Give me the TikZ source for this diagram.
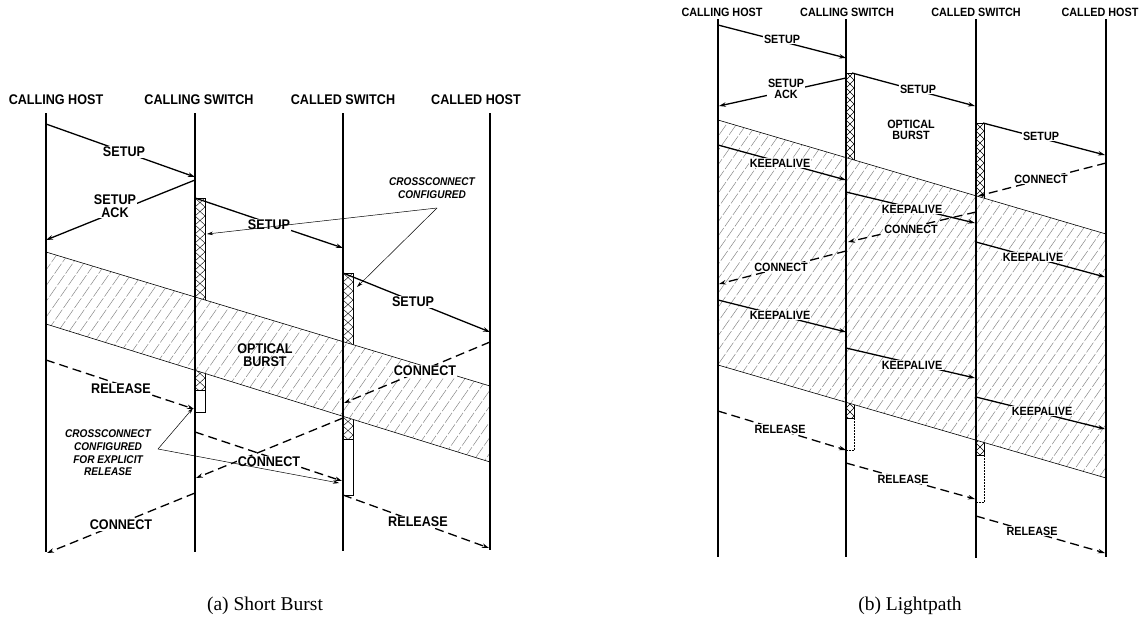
\documentclass[tikz,border=0pt]{standalone}
\usepackage{fontspec}
\setmainfont{Liberation Serif}
\newfontfamily\labfont[FakeStretch=0.9]{Liberation Sans}
\usetikzlibrary{arrows.meta}
\tikzset{
 life/.style={line width=1.7pt},
 msg/.style={line width=1.3pt,-{Stealth[length=7pt,width=4.5pt]}},
 dmsg/.style={msg,dash pattern=on 9pt off 5pt},
 labA/.style={font=\labfont\bfseries\fontsize{14}{13}\selectfont,fill=white,inner sep=1pt,align=center},
 labB/.style={font=\labfont\bfseries\fontsize{12}{11.5}\selectfont,fill=white,inner sep=1pt,align=center},
 headA/.style={font=\labfont\bfseries\fontsize{14}{14}\selectfont},
 headB/.style={font=\labfont\bfseries\fontsize{12}{12}\selectfont},
 noteA/.style={font=\labfont\bfseries\itshape\fontsize{11.2}{12.6}\selectfont,align=center},
 pointer/.style={line width=0.5pt,-{Stealth[length=6pt,width=3.5pt]}},
 hatchline/.style={gray,line width=0.45pt,dash pattern=on 12pt off 2pt},
 bandedge/.style={line width=0.6pt},
 xline/.style={line width=0.4pt},
 xbox/.style={line width=0.6pt},
 dotbox/.style={line width=0.5pt,densely dotted},
 captext/.style={font=\fontsize{19.5}{21}\selectfont}
}
\begin{document}
\begin{tikzpicture}[x=1pt,y=-1pt]
\useasboundingbox (0,0) rectangle (1140,627);

% ================= (a) Short Burst =================
% crossconnect boxes
\begin{scope}
 \clip (195,198) rectangle (205,390);
 \foreach \y in {189,198,...,390} {\draw[xline] (195,\y) -- (205,\y+9); \draw[xline] (195,\y+9) -- (205,\y);}
\end{scope}
\draw[xbox] (195,198) rectangle (205,412);
\draw[xbox] (195,390) -- (205,390);
\begin{scope}
 \clip (343,273) rectangle (353,439);
 \foreach \y in {264,273,...,439} {\draw[xline] (343,\y) -- (353,\y+9); \draw[xline] (343,\y+9) -- (353,\y);}
\end{scope}
\draw[xbox] (343,273) rectangle (353,495);
\draw[xbox] (343,439) -- (353,439);

% optical burst band
\fill[white] (46,252) -- (490,386) -- (490,462) -- (46,324) -- cycle;
\begin{scope}
 \clip (46,252) -- (490,386) -- (490,462) -- (46,324) -- cycle;
 \foreach \x in {-200,-189,...,500} {\draw[hatchline] (\x,480) -- ++(180,-257);}
\end{scope}
\draw[bandedge] (46,252) -- (490,386);
\draw[bandedge] (46,324) -- (490,462);

% lifelines
\coordinate (haT) at (46,113);  \coordinate (haB) at (46,552);
\coordinate (saT) at (195,113); \coordinate (saB) at (195,552);
\coordinate (sbT) at (343,113); \coordinate (sbB) at (343,551);
\coordinate (hbT) at (490,113); \coordinate (hbB) at (490,550);
\draw[life] (haT) -- (haB);
\draw[life] (saT) -- (saB);
\draw[life] (sbT) -- (sbB);
\draw[life] (hbT) -- (hbB);

\node[headA] (hdA1) at (56,100) {CALLING HOST};
\node[headA] (hdA2) at (199,100) {CALLING SWITCH};
\node[headA] (hdA3) at (343,100) {CALLED SWITCH};
\node[headA] (hdA4) at (476,100) {CALLED HOST};

% messages
\coordinate (a1s) at (46,124);  \coordinate (a1e) at (195,177);
\coordinate (a2s) at (195,180); \coordinate (a2e) at (46,240);
\coordinate (a3s) at (195,198); \coordinate (a3e) at (343,248);
\coordinate (a4s) at (343,273); \coordinate (a4e) at (490,332);
\coordinate (a5s) at (490,342); \coordinate (a5e) at (344,403);
\coordinate (a6s) at (343,418); \coordinate (a6e) at (196,478);
\coordinate (a7s) at (195,493); \coordinate (a7e) at (47,553);
\coordinate (a8s) at (46,360);  \coordinate (a8e) at (194,409);
\coordinate (a9s) at (195,432); \coordinate (a9e) at (342,481);
\coordinate (a10s) at (343,495); \coordinate (a10e) at (489,548);
\draw[msg] (a1s) -- (a1e);
\draw[msg] (a2s) -- (a2e);
\draw[msg] (a3s) -- (a3e);
\draw[msg] (a4s) -- (a4e);
\draw[dmsg] (a5s) -- (a5e);
\draw[dmsg] (a6s) -- (a6e);
\draw[dmsg] (a7s) -- (a7e);
\draw[dmsg] (a8s) -- (a8e);
\draw[dmsg] (a9s) -- (a9e);
\draw[dmsg] (a10s) -- (a10e);

\node[labA] (la1) at (124,152) {SETUP};
\node[labA] (la2) at (115,206) {SETUP\\ACK};
\node[labA] (la3) at (269,225) {SETUP};
\node[labA] (la4) at (413,302) {SETUP};
\node[labA] (la5) at (425,371) {CONNECT};
\node[labA] (la6) at (269,462) {CONNECT};
\node[labA] (la7) at (121,525) {CONNECT};
\node[labA] (la8) at (121,389) {RELEASE};
\node[labA] (la10) at (418,522) {RELEASE};
\node[labA,fill=none] (lob) at (265,355) {OPTICAL\\BURST};

% notes with pointers
\node[noteA] (nA1) at (432,188) {CROSSCONNECT\\CONFIGURED};
\coordinate (pA1) at (437,208);
\coordinate (pA1a) at (207,234);
\coordinate (pA1b) at (357,287);
\draw[pointer] (pA1) -- (pA1a);
\draw[pointer] (pA1) -- (pA1b);
\node[noteA] (nA2) at (108,453) {CROSSCONNECT\\CONFIGURED\\FOR EXPLICIT\\RELEASE};
\coordinate (pA2) at (158,449);
\coordinate (pA2a) at (193,408);
\coordinate (pA2b) at (339,483);
\draw[pointer] (pA2) -- (pA2a);
\draw[pointer] (pA2) -- (pA2b);

\node[captext] (capA) at (265,606) {(a) Short Burst};

% ================= (b) Lightpath =================
\begin{scope}
 \clip (846,73) rectangle (854,418);
 \foreach \y in {64,72,...,418} {\draw[xline] (846,\y) -- (854,\y+8); \draw[xline] (846,\y+8) -- (854,\y);}
\end{scope}
\draw[xbox] (846,73) rectangle (854,418);
\draw[dotbox] (846,418) rectangle (854,450);
\begin{scope}
 \clip (976,123) rectangle (984,455);
 \foreach \y in {115,123,...,455} {\draw[xline] (976,\y) -- (984,\y+8); \draw[xline] (976,\y+8) -- (984,\y);}
\end{scope}
\draw[xbox] (976,123) rectangle (984,455);
\draw[dotbox] (976,455) rectangle (984,502);

\fill[white] (718,120) -- (1106,234) -- (1106,478) -- (718,365) -- cycle;
\begin{scope}
 \clip (718,120) -- (1106,234) -- (1106,478) -- (718,365) -- cycle;
 \foreach \x in {430,440,...,1110} {\draw[hatchline] (\x,490) -- ++(270,-385);}
\end{scope}
\draw[bandedge] (718,120) -- (1106,234);
\draw[bandedge] (718,365) -- (1106,478);

\coordinate (HAT) at (718,19);  \coordinate (HAB) at (718,557);
\coordinate (SAT) at (846,19);  \coordinate (SAB) at (846,557);
\coordinate (SBT) at (976,19);  \coordinate (SBB) at (976,558);
\coordinate (HBT) at (1106,19); \coordinate (HBB) at (1106,557);
\draw[life] (HAT) -- (HAB);
\draw[life] (SAT) -- (SAB);
\draw[life] (SBT) -- (SBB);
\draw[life] (HBT) -- (HBB);

\node[headB] (hdB1) at (722,12) {CALLING HOST};
\node[headB] (hdB2) at (847,12) {CALLING SWITCH};
\node[headB] (hdB3) at (976,12) {CALLED SWITCH};
\node[headB] (hdB4) at (1100,12) {CALLED HOST};

\coordinate (b1s) at (718,25);   \coordinate (b1e) at (846,58);
\coordinate (b2s) at (846,78);   \coordinate (b2e) at (719,106);
\coordinate (b3s) at (852,73);   \coordinate (b3e) at (975,106);
\coordinate (b4s) at (983,123);  \coordinate (b4e) at (1105,155);
\coordinate (b5s) at (1106,163); \coordinate (b5e) at (978,196);
\coordinate (k1s) at (718,145);  \coordinate (k1e) at (846,180);
\coordinate (k2s) at (846,192);  \coordinate (k2e) at (975,223);
\coordinate (c2s) at (976,212);  \coordinate (c2e) at (848,242);
\coordinate (k3s) at (976,242);  \coordinate (k3e) at (1105,277);
\coordinate (c3s) at (846,251);  \coordinate (c3e) at (719,284);
\coordinate (k4s) at (718,300);  \coordinate (k4e) at (846,332);
\coordinate (k5s) at (846,348);  \coordinate (k5e) at (975,378);
\coordinate (k6s) at (976,397);  \coordinate (k6e) at (1105,429);
\coordinate (r1s) at (718,411);  \coordinate (r1e) at (846,450);
\coordinate (r2s) at (846,463);  \coordinate (r2e) at (975,499);
\coordinate (r3s) at (976,516);  \coordinate (r3e) at (1105,553);
\draw[msg] (b1s) -- (b1e);
\draw[msg] (b2s) -- (b2e);
\draw[msg] (b3s) -- (b3e);
\draw[msg] (b4s) -- (b4e);
\draw[dmsg] (b5s) -- (b5e);
\draw[msg] (k1s) -- (k1e);
\draw[msg] (k2s) -- (k2e);
\draw[dmsg] (c2s) -- (c2e);
\draw[msg] (k3s) -- (k3e);
\draw[dmsg] (c3s) -- (c3e);
\draw[msg] (k4s) -- (k4e);
\draw[msg] (k5s) -- (k5e);
\draw[msg] (k6s) -- (k6e);
\draw[dmsg] (r1s) -- (r1e);
\draw[dmsg] (r2s) -- (r2e);
\draw[dmsg] (r3s) -- (r3e);

\node[labB] (lb1) at (782,39) {SETUP};
\node[labB] (lb2) at (786,89) {SETUP\\ACK};
\node[labB] (lb3) at (918,89) {SETUP};
\node[labB] (lb4) at (1041,136) {SETUP};
\node[labB] (lb5) at (1041,179) {CONNECT};
\node[labB,fill=none] (lbob) at (911,130) {OPTICAL\\BURST};
\node[labB] (lk1) at (780,163) {KEEPALIVE};
\node[labB] (lk2) at (912,209) {KEEPALIVE};
\node[labB] (lc2) at (911,229) {CONNECT};
\node[labB] (lk3) at (1033,257) {KEEPALIVE};
\node[labB] (lc3) at (781,267) {CONNECT};
\node[labB] (lk4) at (780,315) {KEEPALIVE};
\node[labB] (lk5) at (912,365) {KEEPALIVE};
\node[labB] (lk6) at (1042,411) {KEEPALIVE};
\node[labB] (lr1) at (780,429) {RELEASE};
\node[labB] (lr2) at (903,479) {RELEASE};
\node[labB] (lr3) at (1032,531) {RELEASE};

\node[captext] (capB) at (910,606) {(b) Lightpath};
\end{tikzpicture}
\end{document}
